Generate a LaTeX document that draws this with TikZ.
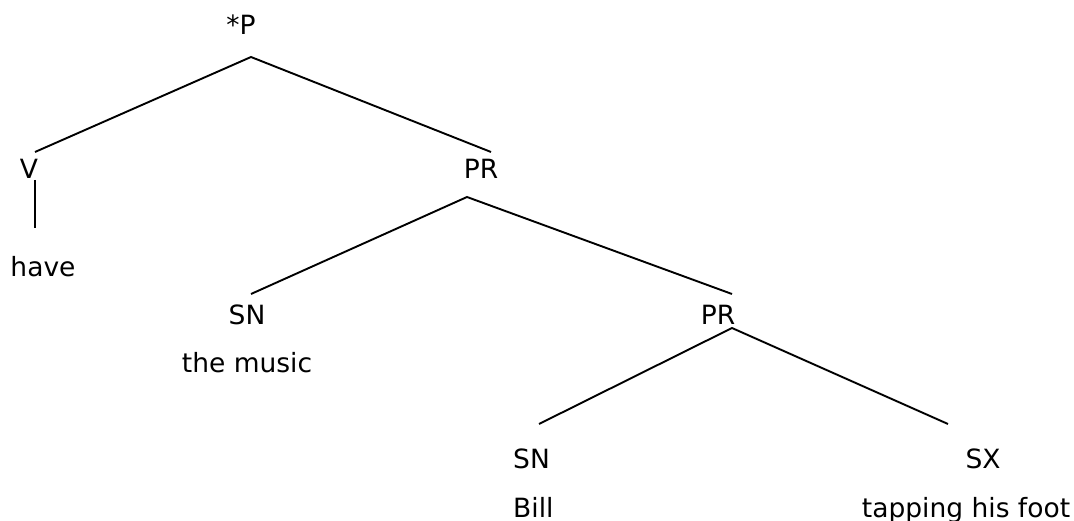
\documentclass[tikz,border=0pt]{standalone}
\usepackage{fontspec}
\setmainfont{DejaVu Sans}
\usepackage{tikz}
\usetikzlibrary{positioning}

\tikzset{
  cat/.style={anchor=base, inner sep=0pt, font=\fontsize{26.5}{31}\selectfont},
  branch/.style={line width=1.9pt, black}
}

\begin{document}
\begin{tikzpicture}[x=1pt, y=-1pt]
\useasboundingbox (0,0) rectangle (1074,521);

% labels
\node[cat] (root) at (241, 35) {*P};
\node[cat] (v) at (29, 179) {V};
\node[cat] (have) at (43, 277) {have};
\node[cat] (pr1) at (481, 179) {PR};
\node[cat] (sn1) at (247, 325) {SN};
\node[cat] (music) at (247, 373) {the music};
\node[cat] (pr2) at (718, 325) {PR};
\node[cat, anchor=base west] (sn2) at (513, 468) {SN};
\node[cat, anchor=base west] (bill) at (513, 517) {Bill};
\node[cat] (sx) at (983, 468) {SX};
\node[cat] (foot) at (966, 517) {tapping his foot};

% branch ends
\coordinate (rootbot) at (251, 57);
\coordinate (vtop) at (35, 152);
\coordinate (vbot) at (35, 180);
\coordinate (havetop) at (35, 228);
\coordinate (pr1top) at (491, 152);
\coordinate (pr1bot) at (467, 197);
\coordinate (sn1top) at (251, 294);
\coordinate (pr2top) at (732, 294);
\coordinate (pr2bot) at (732, 328);
\coordinate (sn2top) at (539, 424);
\coordinate (sxtop) at (948, 424);

\draw[branch] (vtop) -- (rootbot) -- (pr1top);
\draw[branch] (vbot) -- (havetop);
\draw[branch] (sn1top) -- (pr1bot) -- (pr2top);
\draw[branch] (sn2top) -- (pr2bot) -- (sxtop);
\end{tikzpicture}
\end{document}
